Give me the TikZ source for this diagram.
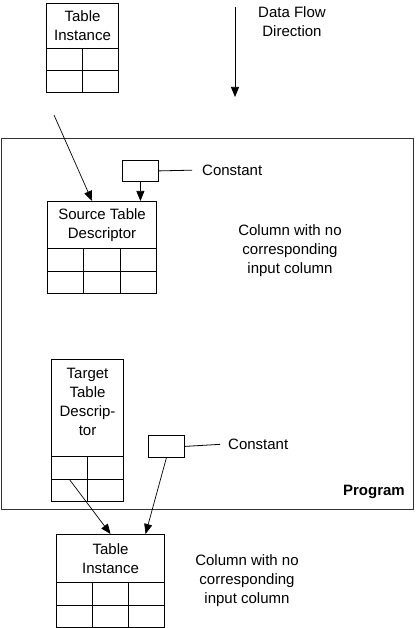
\documentclass[tikz,border=0pt]{standalone}
\usepackage{fontspec}
\setmainfont{Liberation Sans}
\usetikzlibrary{arrows.meta,positioning}

\tikzset{
  head/.style={draw, line width=1.1pt, inner sep=0pt, align=center, anchor=north west},
  cell/.style={draw, line width=1.1pt, inner sep=0pt, minimum width=36pt, minimum height=22.5pt, anchor=north west},
  cbox/.style={draw, line width=0.8pt, inner sep=0pt, minimum width=36pt, minimum height=21pt, anchor=north west},
  lbl/.style={align=center, inner sep=2pt},
  flow/.style={line width=0.7pt, -{Triangle[length=10pt,width=8pt]}},
}

\begin{document}
\begin{tikzpicture}[x=1pt, y=-1pt, font=\fontsize{15}{19}\selectfont]
  \useasboundingbox (0,0) rectangle (415,628);

  % program frame
  \node[draw=black!80, line width=1pt, minimum width=412pt, minimum height=371pt, inner sep=0pt, anchor=north west] (prog) at (1,138) {};
  \node[lbl, anchor=east, font=\fontsize{15}{19}\selectfont\bfseries] (progname) at (407,492) {Program};

  % data flow direction
  \coordinate (flowtop) at (235,7);
  \coordinate (flowbot) at (235,97);
  \draw[flow] (flowtop) -- (flowbot);
  \node[lbl] (flowname) at (292,22) {Data Flow\\Direction};

  % input table instance
  \node[head, minimum width=72pt, minimum height=45pt] (inhead) at (46,3) {Table\\Instance};
  \foreach \r in {1,2}
    \foreach \c in {1,2}
      \node[cell, minimum height=22pt] (in\r\c) at ({46+36*(\c-1)},{48+22*(\r-1)}) {};

  % source table descriptor
  \node[head, minimum width=109pt, minimum height=47pt] (srchead) at (47,201) {Source Table\\Descriptor};
  \foreach \r in {1,2}
    \foreach \c in {1,2,3}
      \node[cell, minimum width=36.3pt] (src\r\c) at ({47+36.3*(\c-1)},{248+22.5*(\r-1)}) {};
  \coordinate (infrom) at (54,115);
  \draw[flow] (infrom) -- ([xshift=-10pt]srchead.north);

  \node[cbox] (cst1) at (122,160) {};
  \node[lbl, anchor=west] (cst1name) at (200,170) {Constant};
  \draw[line width=0.8pt, shorten >=8pt] (cst1.east) -- (cst1name.west);
  \draw[flow] (cst1.south) -- (cst1.south |- srchead.north);
  \node[lbl] (nocol1) at (290,251) {Column with no\\corresponding\\input column};

  % target table descriptor
  \node[head, minimum width=72pt, minimum height=97pt] (tgthead) at (51,359) {};
  \node[lbl] (tgtname) at ([yshift=6pt]tgthead.center) {Target\\Table\\Descrip-\\tor};
  \foreach \r in {1,2}
    \foreach \c in {1,2}
      \node[cell] (tgt\r\c) at ({51+36*(\c-1)},{456+22.5*(\r-1)}) {};

  \node[cbox, minimum height=22pt] (cst2) at (148,435) {};
  \node[lbl, anchor=west] (cst2name) at (226,444) {Constant};
  \draw[line width=0.8pt, shorten >=6pt] (cst2.east) -- (cst2name.west);

  % output table instance
  \node[head, minimum width=108pt, minimum height=48pt] (outhead) at (56,534) {Table\\Instance};
  \foreach \r in {1,2}
    \foreach \c in {1,2,3}
      \node[cell] (out\r\c) at ({56+36*(\c-1)},{582+22.5*(\r-1)}) {};
  \node[lbl] (nocol2) at (247,581) {Column with no\\corresponding\\input column};

  \draw[flow] (tgt11.south) -- (outhead.north);
  \draw[flow] (cst2.south) -- ([xshift=35pt]outhead.north);
\end{tikzpicture}
\end{document}
